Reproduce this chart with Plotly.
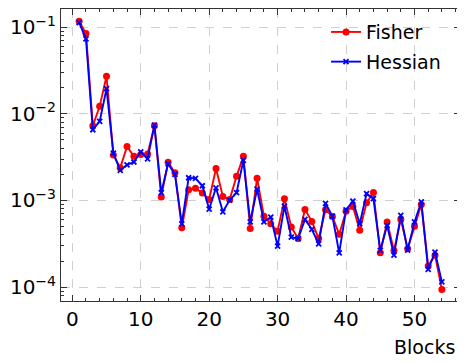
import plotly.graph_objects as go

blocks = list(range(1, 55))

fisher = [0.117, 0.0846, 0.00728, 0.0122, 0.0272, 0.00336, 0.00238, 0.0042, 0.00323, 0.0034,
          0.00345, 0.00728, 0.0011, 0.00277, 0.00209, 0.000484, 0.00133, 0.00138, 0.00122, 0.00103,
          0.00234, 0.00111, 0.00103, 0.0019, 0.00323, 0.000476, 0.0018, 0.00066, 0.000538, 0.000443,
          0.00105, 0.000493, 0.000365, 0.000788, 0.000574, 0.000363, 0.00078, 0.000655, 0.000407, 0.00075,
          0.000855, 0.000452, 0.00094, 0.00124, 0.000249, 0.000564, 0.000265, 0.000605, 0.000277, 0.000505,
          0.0009, 0.000175, 0.000234, 0.0000942]

hessian = [0.113, 0.0733, 0.00655, 0.00817, 0.0195, 0.00352, 0.00222, 0.00258, 0.00278, 0.00365,
           0.00303, 0.0074, 0.00123, 0.00265, 0.002, 0.000538, 0.00183, 0.0018, 0.00148, 0.000796,
           0.0014, 0.000741, 0.00101, 0.00123, 0.0029, 0.000568, 0.00135, 0.000568, 0.000644, 0.000298,
           0.00086, 0.000378, 0.000363, 0.000605, 0.000465, 0.000316, 0.000925, 0.00066, 0.000249, 0.00078,
           0.000985, 0.000538, 0.0012, 0.00105, 0.000265, 0.000516, 0.000234, 0.000673, 0.000268, 0.000566,
           0.000966, 0.00016, 0.000254, 0.000115]

y_tickvals = [1e-4, 1e-3, 1e-2, 1e-1]
y_ticktext = ["10<sup>\u22124</sup>", "10<sup>\u22123</sup>", "10<sup>\u22122</sup>", "10<sup>\u22121</sup>"]
y_minor = [m * 10.0 ** e for e in (-5, -4, -3, -2, -1) for m in range(2, 10)]

fig = go.Figure()
fig.add_trace(go.Scatter(x=blocks, y=fisher, name="Fisher", mode="lines+markers",
                         legendgroup="f",
                         line=dict(color="red", width=1.9),
                         marker=dict(symbol="circle", size=7, color="red")))
fig.add_trace(go.Scatter(x=blocks, y=hessian, name="Hessian", mode="lines+markers",
                         legendgroup="h",
                         line=dict(color="blue", width=1.9),
                         marker=dict(symbol="x-thin", size=5, color="blue",
                                     line=dict(color="blue", width=1.8))))

axis_common = dict(showline=True, linecolor="#333", linewidth=1, mirror="ticks",
                   ticks="inside", ticklen=6, tickcolor="#333", tickwidth=1,
                   showgrid=True, gridcolor="#d0d0d0", griddash="dash", gridwidth=1,
                   zeroline=False, automargin=False, tickfont=dict(size=20, color="black"))

fig.update_xaxes(range=[-1.65, 56.65], tickvals=[0, 10, 20, 30, 40, 50],
                 minor=dict(ticks="inside", ticklen=3, tickcolor="#333", dtick=2, tick0=0, showgrid=False),
                 **axis_common)
fig.update_yaxes(type="log", range=[-4.16, -0.79], tickvals=y_tickvals, ticktext=y_ticktext,
                 minor=dict(ticks="inside", ticklen=3, tickcolor="#333", tickvals=y_minor, showgrid=False),
                 **axis_common)

fig.add_annotation(text="Blocks", xref="paper", yref="paper", x=0.9925, y=-0.158,
                   xanchor="right", yanchor="middle", showarrow=False,
                   font=dict(size=19, color="black"))

# page adds an 8px body margin, so the figure is a bit smaller than the window
fig.update_layout(width=457, height=355, margin=dict(l=53, r=5, t=1, b=62),
                  plot_bgcolor="white", paper_bgcolor="white",
                  font=dict(family="DejaVu Sans", color="black"),
                  legend=dict(x=0.965, y=0.986, xanchor="right", yanchor="top",
                              tracegroupgap=2,
                              bgcolor="rgba(255,255,255,0)", font=dict(size=19)),
                  showlegend=True)

fig.write_html("out.html")
